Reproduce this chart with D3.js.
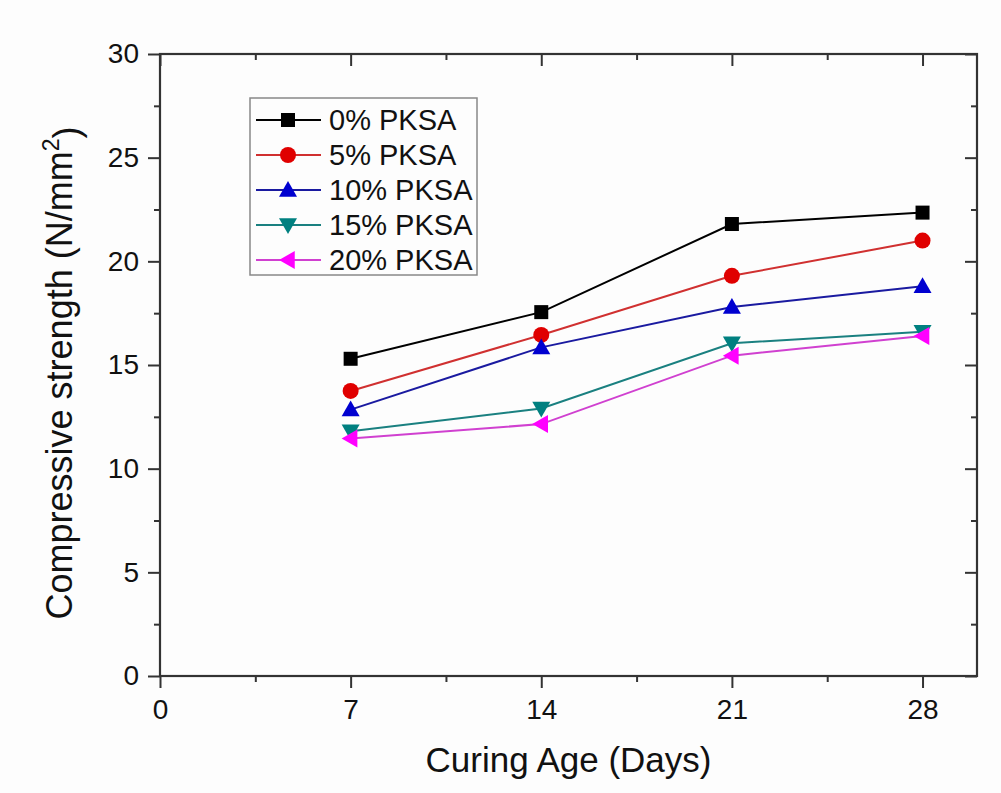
<!DOCTYPE html>
<html>
<head>
<meta charset="utf-8">
<script src="https://cdn.jsdelivr.net/npm/d3@7"></script>
<style>
  html, body { margin: 0; padding: 0; background: #fdfdfd; }
  svg { display: block; }
  text { font-family: "Liberation Sans", Arial, sans-serif; fill: #111; }
</style>
</head>
<body>
<svg id="chart" width="1001" height="793"></svg>
<script>
const days = [7, 14, 21, 28];
const seriesNames = ["0% PKSA", "5% PKSA", "10% PKSA", "15% PKSA", "20% PKSA"];
const s0 = [15.3, 17.55, 21.8, 22.35];
const s5 = [13.75, 16.45, 19.3, 21.0];
const s10 = [12.85, 15.85, 17.8, 18.8];
const s15 = [11.8, 12.9, 16.05, 16.6];
const s20 = [11.45, 12.15, 15.45, 16.4];
const xTicks = [0, 7, 14, 21, 28];
const xMinor = [3.5, 10.5, 17.5, 24.5];
const yTicks = [0, 5, 10, 15, 20, 25, 30];
const yMinor = [2.5, 7.5, 12.5, 17.5, 22.5, 27.5];
const xTitle = "Curing Age (Days)";
const yTitle = "Compressive strength (N/mm";

const colors = ["#000000", "#e00000", "#0000d0", "#008080", "#ff00ff"];
const lineColors = ["#000000", "#d03030", "#1a1aa0", "#1a8080", "#d040d0"];
const shapes = ["square", "circle", "up", "down", "left"];
const allSeries = [s0, s5, s10, s15, s20];

const svg = d3.select("#chart");
const L = 160, R = 977, T = 54, B = 676;
const x = d3.scaleLinear().domain([0, 30]).range([L, R]);
const y = d3.scaleLinear().domain([0, 30]).range([B, T]);

const axisColor = "#333";
function styleAxis(g, showText) {
  g.select(".domain").remove();
  g.selectAll(".tick line").attr("stroke", axisColor).attr("stroke-width", 2);
  g.selectAll(".tick text").style("font-size", "28px").attr("fill", "#111");
  if (!showText) g.selectAll(".tick text").remove();
}

// bottom
svg.append("g").attr("transform", `translate(0,${B})`)
  .call(d3.axisBottom(x).tickValues(xTicks).tickSize(12).tickPadding(11).tickFormat(d3.format("d")))
  .call(g => styleAxis(g, true));
svg.append("g").attr("transform", `translate(0,${B})`)
  .call(d3.axisBottom(x).tickValues(xMinor).tickSize(6))
  .call(g => styleAxis(g, false));
// top
svg.append("g").attr("transform", `translate(0,${T})`)
  .call(d3.axisTop(x).tickValues(xTicks).tickSize(-12))
  .call(g => styleAxis(g, false));
svg.append("g").attr("transform", `translate(0,${T})`)
  .call(d3.axisTop(x).tickValues(xMinor).tickSize(-6))
  .call(g => styleAxis(g, false));
// left
svg.append("g").attr("transform", `translate(${L},0)`)
  .call(d3.axisLeft(y).tickValues(yTicks).tickSize(12).tickPadding(9).tickFormat(d3.format("d")))
  .call(g => styleAxis(g, true));
svg.append("g").attr("transform", `translate(${L},0)`)
  .call(d3.axisLeft(y).tickValues(yMinor).tickSize(6))
  .call(g => styleAxis(g, false));
// right
svg.append("g").attr("transform", `translate(${R},0)`)
  .call(d3.axisRight(y).tickValues(yTicks).tickSize(-12))
  .call(g => styleAxis(g, false));
svg.append("g").attr("transform", `translate(${R},0)`)
  .call(d3.axisRight(y).tickValues(yMinor).tickSize(-6))
  .call(g => styleAxis(g, false));

// frame
svg.append("rect").attr("x", L).attr("y", T).attr("width", R - L).attr("height", B - T)
  .attr("fill", "none").attr("stroke", axisColor).attr("stroke-width", 2.2);

// marker drawing
function drawMarker(g, shape, cx, cy, color) {
  if (shape === "square") {
    g.append("rect").attr("x", cx - 7).attr("y", cy - 7).attr("width", 14).attr("height", 14).attr("fill", color);
  } else if (shape === "circle") {
    g.append("circle").attr("cx", cx).attr("cy", cy).attr("r", 8).attr("fill", color);
  } else {
    const s = 9;
    let pts;
    if (shape === "up") pts = [[cx, cy - s], [cx + s, cy + s * 0.75], [cx - s, cy + s * 0.75]];
    if (shape === "down") pts = [[cx, cy + s], [cx + s, cy - s * 0.75], [cx - s, cy - s * 0.75]];
    if (shape === "left") pts = [[cx - s, cy], [cx + s * 0.75, cy - s], [cx + s * 0.75, cy + s]];
    g.append("polygon").attr("points", pts.map(p => p.join(",")).join(" ")).attr("fill", color);
  }
}

const line = d3.line().x((d, i) => x(days[i])).y(d => y(d));
allSeries.forEach((vals, k) => {
  const g = svg.append("g");
  g.append("path").attr("d", line(vals)).attr("fill", "none")
    .attr("stroke", lineColors[k]).attr("stroke-width", 2);
  vals.forEach((v, i) => drawMarker(g, shapes[k], x(days[i]), y(v), colors[k]));
});

// legend
const lg = svg.append("g");
lg.append("rect").attr("x", 250).attr("y", 98).attr("width", 227).attr("height", 177)
  .attr("fill", "#fdfdfd").attr("stroke", "#888").attr("stroke-width", 1.5);
seriesNames.forEach((name, k) => {
  const cy = 120 + k * 35;
  lg.append("line").attr("x1", 256).attr("x2", 321).attr("y1", cy).attr("y2", cy)
    .attr("stroke", lineColors[k]).attr("stroke-width", 2);
  drawMarker(lg, shapes[k], 288, cy, colors[k]);
  lg.append("text").attr("x", 329).attr("y", cy).attr("dy", "0.35em")
    .style("font-size", "29px").text(name);
});

// titles
svg.append("text").attr("x", (L + R) / 2).attr("y", 772).attr("text-anchor", "middle")
  .style("font-size", "35px").text(xTitle);
const yt = svg.append("text").attr("transform", `translate(72,${373}) rotate(-90)`)
  .attr("text-anchor", "middle").style("font-size", "36px");
yt.append("tspan").text(yTitle);
yt.append("tspan").attr("dy", "-0.55em").style("font-size", "23px").text("2");
yt.append("tspan").attr("dy", "0.55em").text(")");
</script>
</body>
</html>
